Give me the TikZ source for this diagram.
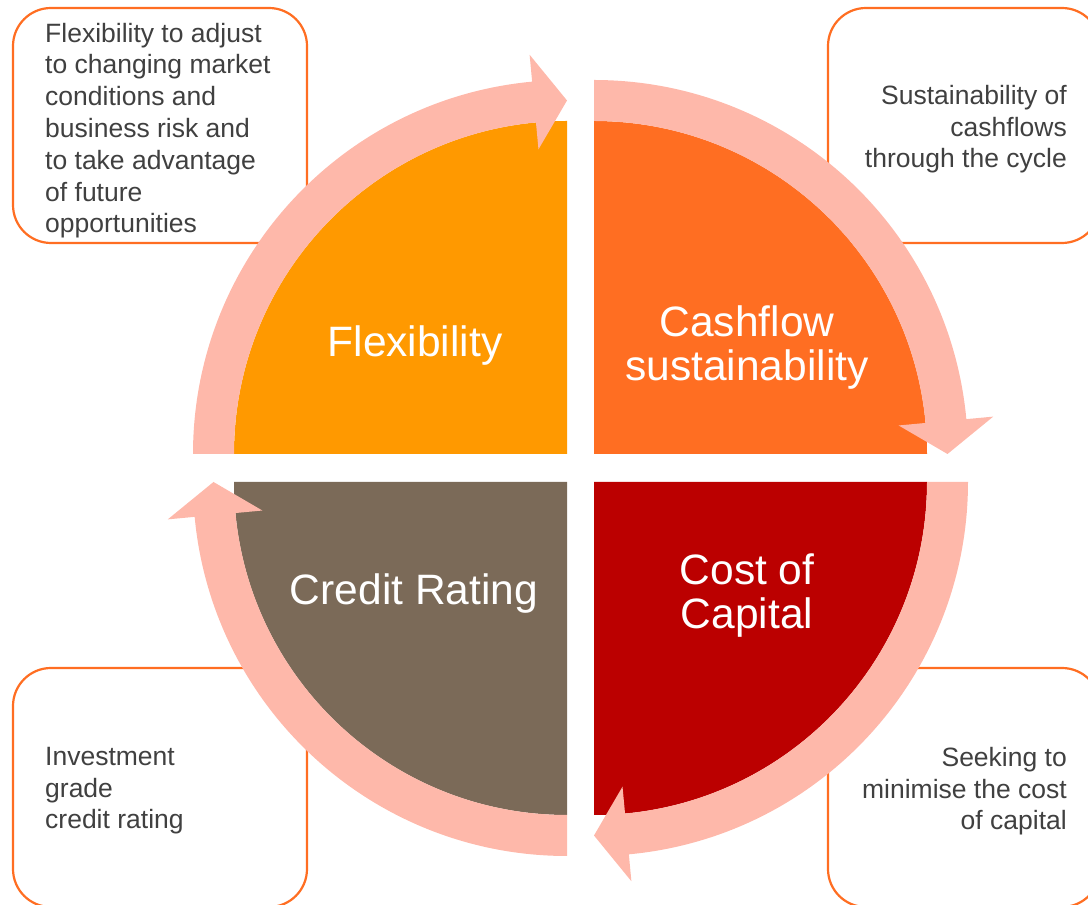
\documentclass[tikz,border=0pt]{standalone}
\usepackage{fontspec}
\setmainfont{Liberation Sans}
\usetikzlibrary{calc}

\definecolor{flexorange}{HTML}{FF9900}
\definecolor{cashorange}{HTML}{FF6E22}
\definecolor{costred}{HTML}{BB0000}
\definecolor{ratingbrown}{HTML}{7B6A58}
\definecolor{bandpink}{HTML}{FEB8AA}
\definecolor{noteline}{HTML}{FF6E22}
\definecolor{notegray}{HTML}{404040}

% ring piece with its head: corner of the quarter, angle where it starts
\newcommand{\cyclearrow}[2]{%
    \fill[band, shift={(#1)}] (#2:374) arc[start angle=#2, end angle=#2-84.65, radius=374]
        -- (#2-84.65:401) -- (#2-90:353.5) -- (#2-84.65:306) -- (#2-84.65:333)
        arc[start angle=#2-84.65, end angle=#2, radius=333] -- cycle;}

\begin{document}
\begin{tikzpicture}[x=1pt, y=1pt,
    note/.style={draw=noteline, line width=2.2pt, fill=white, rounded corners=38pt},
    notetext/.style={inner sep=0pt, text=notegray, font=\fontsize{26.5}{31.8}\selectfont},
    band/.style={fill=bandpink},
    quadtext/.style={inner sep=0pt, text=white, align=center, font=\fontsize{42.5}{44}\selectfont}
]

\path[use as bounding box, clip] (0,0) rectangle (1088,905);

%%%

    % note boxes behind the ring
    \draw[note] (13,897) rectangle (307,662);
    \draw[note] (828,897) rectangle (1100,662);
    \draw[note] (13,237) rectangle (307,-2);
    \draw[note] (828,237) rectangle (1100,-2);

    \coordinate (tl) at (567,451);
    \coordinate (tr) at (594,451);
    \coordinate (br) at (594,423);
    \coordinate (bl) at (567,423);

    \fill[flexorange] (tl) -- ++(180:333) arc[start angle=180, end angle=90, radius=333] -- cycle;
    \fill[cashorange] (tr) -- ++(90:333) arc[start angle=90, end angle=0, radius=333] -- cycle;
    \fill[costred] (br) -- ++(0:333) arc[start angle=0, end angle=-90, radius=333] -- cycle;
    \fill[ratingbrown] (bl) -- ++(270:333) arc[start angle=270, end angle=180, radius=333] -- cycle;

    \cyclearrow{tl}{180}
    \cyclearrow{tr}{90}
    \cyclearrow{br}{0}
    \cyclearrow{bl}{270}

    % base anchor of a node with several lines sits on its last line
    \node[quadtext, anchor=base] (flex) at (415,548) {Flexibility};
    \node[quadtext, anchor=base] (cash) at (747,524) {Cashflow\\sustainability};
    \node[quadtext, anchor=base] (cost) at (747,276) {Cost of\\Capital};
    \node[quadtext, anchor=base] (rating) at (414,300) {Credit Rating};

    \node[notetext, align=left, anchor=base west] (flexnote) at (45,672)
        {Flexibility to adjust\\to changing market\\conditions and\\business risk and\\to take advantage\\of future\\opportunities};
    \node[notetext, align=right, anchor=base east] (cashnote) at (1067,737)
        {Sustainability of\\cashflows\\through the cycle};
    \node[notetext, align=left, anchor=base west] (ratingnote) at (45,76)
        {Investment\\grade\\credit rating};
    \node[notetext, align=right, anchor=base east] (costnote) at (1067,75)
        {Seeking to\\minimise the cost\\of capital};

\end{tikzpicture}
\end{document}
